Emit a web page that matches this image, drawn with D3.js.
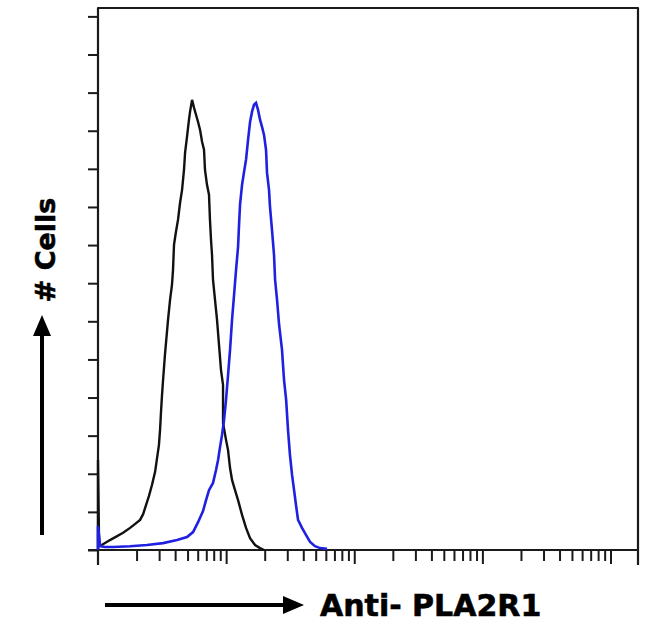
<!DOCTYPE html>
<html>
<head>
<meta charset="utf-8">
<script src="https://cdn.jsdelivr.net/npm/d3@7/dist/d3.min.js"></script>
<style>
  html, body { margin: 0; padding: 0; background: #fff; }
  svg { display: block; }
</style>
</head>
<body>
<svg id="chart" width="650" height="643"></svg>
<script>
// ---- Data ----
const isotypeIntensity = [1, 1, 1.02, 1.07, 1.24, 1.57, 1.78, 1.94, 2.13, 2.25, 2.37, 2.50, 2.64, 2.79, 2.89, 2.99, 3.05, 3.10, 3.16, 3.22, 3.33, 3.52, 3.65, 3.78, 3.85, 3.92, 4.06, 4.21, 4.37, 4.53, 4.69, 4.78, 4.95, 5.13, 5.23, 5.42, 5.62, 5.82, 6.04, 6.26, 6.49, 6.72, 6.84, 7.09, 7.35, 7.48, 7.62, 7.76, 7.90, 8.19, 8.49, 8.80, 9.12, 9.46, 9.46, 9.98, 10.35, 10.73, 11.12, 11.73, 12.39, 13.31, 14.30, 15.37, 16.81, 18.39, 19.76];
const isotypeCount = [0, 23.6, 1.0, 1.3, 2.6, 4.5, 5.8, 6.8, 7.9, 9.4, 11.8, 14.2, 17.1, 20.5, 24.1, 27.6, 31.5, 36.0, 40.7, 44.6, 51.2, 60.4, 65.6, 69.6, 73.5, 80.1, 83.5, 86.6, 91.1, 94.5, 99.7, 104.2, 108.4, 112.9, 115.0, 118.1, 116.0, 114.2, 112.3, 110.2, 107.1, 105.0, 99.7, 95.8, 93.2, 86.6, 81.4, 77.4, 70.9, 65.6, 60.4, 53.8, 47.2, 43.3, 33.3, 28.9, 26.2, 21.5, 18.4, 15.7, 13.1, 9.2, 5.8, 3.1, 1.3, 0.5, 0];

const antibodyIntensity = [1, 1, 1.04, 1.13, 1.31, 1.78, 2.41, 3.22, 4.14, 4.95, 5.52, 6.04, 6.60, 6.97, 7.35, 7.90, 8.34, 8.65, 8.96, 9.29, 9.63, 9.98, 10.35, 10.73, 11.12, 11.53, 11.95, 12.39, 12.61, 12.84, 13.31, 13.80, 14.30, 14.83, 15.37, 15.93, 16.51, 17.11, 17.74, 18.39, 19.06, 19.76, 20.48, 20.85, 21.61, 22.0, 22.8, 23.65, 24.1, 24.97, 25.9, 27.3, 28.3, 29.4, 30.4, 31.5, 32.7, 33.9, 35.1, 36.4, 39.1, 42.1, 45.2, 49.4, 54.1, 61.3];
const antibodyCount = [0, 6.3, 1.0, 0.8, 0.8, 1.0, 1.3, 1.8, 2.6, 3.4, 4.7, 7.3, 10.2, 13.1, 15.7, 17.6, 21.0, 23.6, 27.0, 30.2, 34.1, 39.4, 45.9, 52.5, 60.4, 66.9, 73.5, 79.5, 85.3, 90.6, 95.8, 99.2, 102.4, 107.6, 112.3, 115.0, 116.8, 117.3, 115.5, 112.9, 111.0, 108.9, 105.0, 99.0, 94.5, 90.0, 84.0, 77.4, 70.9, 65.6, 59.1, 52.5, 44.6, 39.4, 31.5, 24.9, 19.7, 15.7, 11.8, 7.9, 5.8, 3.9, 2.1, 1.0, 0.5, 0.3];

const yTickValues = [0, 10, 20, 30, 40, 50, 60, 70, 80, 90, 100, 110, 120, 130, 140];
const xMajorTicks = [10, 100, 1000, 10000];
const xMinorTicks = [2,3,4,5,6,7,8,9, 20,30,40,50,60,70,80,90, 200,300,400,500,600,700,800,900, 2000,3000,4000,5000,6000,7000,8000,9000];
const xDomain = [1, 16384];
const yDomain = [0, 142.2];
const xLabel = "Anti- PLA2R1";
const yLabel = "# Cells";

// ---- Layout ----
const L = 98, R = 638, T = 8, B = 550;
const svg = d3.select("#chart");
const x = d3.scaleLog().domain(xDomain).range([L, R]);
const y = d3.scaleLinear().domain(yDomain).range([B, T]);
const ink = "#1a1a1a";

// y ticks
const yAxis = svg.append("g").attr("transform", `translate(${L},0)`)
  .call(d3.axisLeft(y).tickValues(yTickValues).tickSize(10).tickFormat(""));
yAxis.select(".domain").remove();
yAxis.selectAll("line").attr("stroke", ink).attr("stroke-width", 2);

// x minor ticks
const xMinor = svg.append("g").attr("transform", `translate(0,${B})`)
  .call(d3.axisBottom(x).tickValues(xMinorTicks).tickSize(11).tickFormat(""));
xMinor.select(".domain").remove();
xMinor.selectAll("line").attr("stroke", ink).attr("stroke-width", 2);

// x major ticks
const xMajor = svg.append("g").attr("transform", `translate(0,${B})`)
  .call(d3.axisBottom(x).tickValues(xMajorTicks).tickSize(14).tickFormat(""));
xMajor.select(".domain").remove();
xMajor.selectAll("line").attr("stroke", ink).attr("stroke-width", 2);

// frame
svg.append("path")
  .attr("d", `M${L},${B + 15} L${L},${T} L${R},${T} L${R},${B + 15} M${L - 10},${B} L${R},${B}`)
  .attr("fill", "none").attr("stroke", ink).attr("stroke-width", 2.2)
  .attr("stroke-linejoin", "round");

// curves
const line = d3.line().x(d => x(d[0])).y(d => y(d[1]));
const iso = isotypeIntensity.map((v, i) => [v, isotypeCount[i]]);
const ab = antibodyIntensity.map((v, i) => [v, antibodyCount[i]]);

svg.append("path").datum(iso).attr("d", line)
  .attr("fill", "none").attr("stroke", "#111").attr("stroke-width", 2.4)
  .attr("stroke-linejoin", "miter");
svg.append("path").datum(ab).attr("d", line)
  .attr("fill", "none").attr("stroke", "#2020e0").attr("stroke-width", 2.6)
  .attr("stroke-linejoin", "miter");

// y label + arrow
const yl = svg.append("g");
yl.append("line").attr("x1", 42).attr("x2", 42).attr("y1", 535).attr("y2", 330)
  .attr("stroke", "#000").attr("stroke-width", 4);
yl.append("path").attr("d", "M42,315 L33,336 L51,336 Z").attr("fill", "#000");
yl.append("text")
  .attr("transform", "translate(55,250) rotate(-90)")
  .attr("text-anchor", "middle")
  .attr("font-family", "DejaVu Sans, sans-serif")
  .attr("font-weight", "bold")
  .attr("font-size", 27)
  .attr("fill", "#000")
  .attr("stroke", "#000").attr("stroke-width", 0.6)
  .text(yLabel);

// x label + arrow
const xl = svg.append("g");
xl.append("line").attr("x1", 105).attr("x2", 288).attr("y1", 605).attr("y2", 605)
  .attr("stroke", "#000").attr("stroke-width", 4);
xl.append("path").attr("d", "M304,605 L283,596 L283,614 Z").attr("fill", "#000");
xl.append("text")
  .attr("x", 320).attr("y", 616)
  .attr("font-family", "DejaVu Sans, sans-serif")
  .attr("font-weight", "bold")
  .attr("font-size", 30)
  .attr("fill", "#000")
  .attr("stroke", "#000").attr("stroke-width", 0.6)
  .text(xLabel);
</script>
</body>
</html>
